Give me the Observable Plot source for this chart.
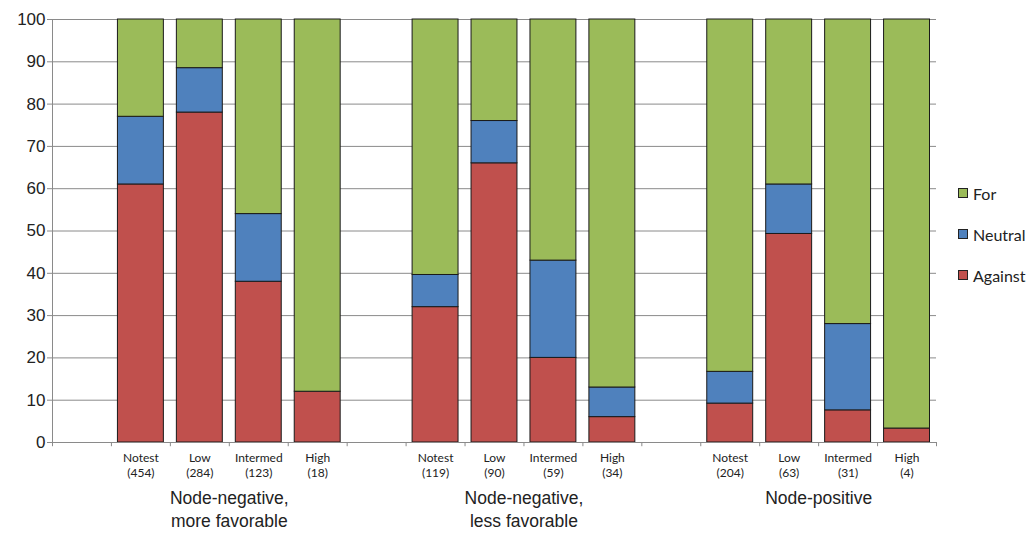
<!DOCTYPE html>
<html>
<head>
<meta charset="utf-8">
<script src="https://cdn.jsdelivr.net/npm/d3@7"></script>
<script src="https://cdn.jsdelivr.net/npm/@observablehq/plot@0.6"></script>
<style>
  html, body { margin: 0; padding: 0; background: #fff; }
  #wrap { position: relative; width: 1031px; height: 536px; }
  #legend { position: absolute; left: 958px; top: 183px; font-family: Lato, "Open Sans", sans-serif; font-size: 16px; color: #222; }
  .item { display: flex; align-items: center; height: 20px; margin-bottom: 21px; }
  .sw { width: 10px; height: 10px; border: 1px solid #222; margin-right: 5px; box-sizing: border-box; }
</style>
</head>
<body>
<div id="wrap"><div id="legend"></div></div>
<script>
const groups = ["Node-negative,\nmore favorable", "Node-negative,\nless favorable", "Node-positive"];
const levels = ["Notest", "Low", "Intermed", "High"];
const counts = [[454, 284, 123, 18], [119, 90, 59, 34], [204, 63, 31, 4]];
const responses = ["Against", "Neutral", "For"];
const colors = ["#C0504D", "#4F81BD", "#9BBB59"];
const against = [[61, 78, 38, 12], [32, 66, 20, 6], [9.2, 49.3, 7.6, 3.3]];
const neutral = [[16, 10.5, 16, 0], [7.6, 10, 23, 7], [7.5, 11.7, 20.4, 0]];
const forv = [[23, 11.5, 46, 88], [60.4, 24, 57, 87], [83.3, 39, 72, 96.7]];
const yTicks = [0, 10, 20, 30, 40, 50, 60, 70, 80, 90, 100];

// slots: a blank slot before each group, then the four levels
const slots = [];
const labelOf = {};
groups.forEach((g, gi) => {
  slots.push(`blank${gi}`); labelOf[`blank${gi}`] = "";
  levels.forEach((l, li) => {
    const k = `${gi}-${l}`;
    slots.push(k);
    labelOf[k] = `${l}\n(${counts[gi][li]})`;
  });
});

const series = [against, neutral, forv];
const rows = [];
groups.forEach((g, gi) => levels.forEach((l, li) => responses.forEach((r, ri) => {
  rows.push({slot: `${gi}-${l}`, response: r, value: series[ri][gi][li]});
})));

const W = 1031, H = 536;
const mL = 52, mR = 95, mT = 19, mB = 94;
const bw = (W - mL - mR) / slots.length;

const chart = Plot.plot({
  width: W, height: H,
  marginLeft: mL, marginRight: mR, marginTop: mT, marginBottom: mB,
  style: {fontFamily: "'Liberation Sans', Arial, sans-serif", color: "#222", background: "#fff"},
  x: {domain: slots, padding: 0, round: false, axis: null, label: null},
  y: {domain: [0, 100], axis: null, label: null},
  color: {domain: responses, range: colors},
  marks: [
    Plot.gridY(yTicks, {stroke: "#8a8a8a", strokeOpacity: 1, strokeWidth: 1}),
    Plot.axisY(yTicks, {tickSize: 5, tickPadding: 2, fontSize: 17, stroke: "#8a8a8a", strokeOpacity: 1, fill: "#222", label: null}),
    Plot.ruleX([slots[0]], {dx: -bw / 2, stroke: "#8a8a8a"}),
    Plot.barY(rows, {x: "slot", y: "value", fill: "response", stroke: "#1a1a1a", strokeWidth: 1, insetLeft: 6.5, insetRight: 6.5}),
    Plot.ruleY([0], {stroke: "#8a8a8a"}),
    Plot.axisX(slots, {tickSize: 0, tickPadding: 9, fontSize: 12, fontFamily: "Lato, 'Open Sans', sans-serif", lineHeight: 1.25, fill: "#222", label: null, tickFormat: d => labelOf[d]}),
    Plot.ruleX(slots, {x: d => d, y1: 0, y2: -1, dx: -bw / 2, stroke: "#8a8a8a", clip: false}),
    Plot.ruleX([slots[slots.length - 1]], {y1: 0, y2: -1, dx: bw / 2, stroke: "#8a8a8a", clip: false}),
    Plot.text(groups, {x: (d, i) => `${i}-Low`, y: 0, text: d => d, dx: bw / 2, dy: 45, lineAnchor: "top", fontSize: 17.5, lineHeight: 1.32, fill: "#222", clip: false})
  ]
});
document.getElementById("wrap").prepend(chart);

const legend = document.getElementById("legend");
[2, 1, 0].forEach(i => {
  const it = document.createElement("div");
  it.className = "item";
  it.innerHTML = `<div class="sw" style="background:${colors[i]}"></div><span>${responses[i]}</span>`;
  legend.appendChild(it);
});
</script>
</body>
</html>
